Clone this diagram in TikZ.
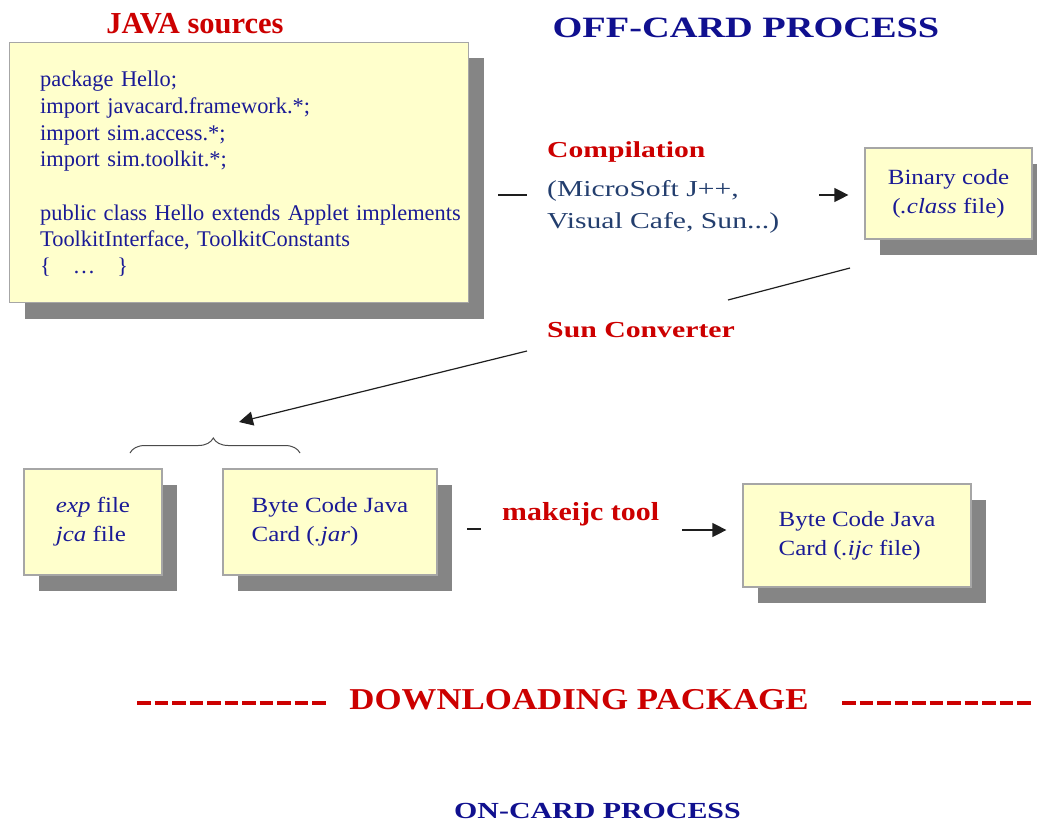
\documentclass[tikz,border=0pt]{standalone}
\usepackage{fontspec}
\setmainfont{Liberation Serif}
\newfontfamily\sfam[FakeStretch=1.15]{Liberation Serif}
\newfontfamily\hfam[FakeStretch=1.3]{Liberation Serif}
\usetikzlibrary{arrows.meta,shadows,decorations.pathreplacing}
\definecolor{boxyellow}{HTML}{FFFFCC}
\definecolor{boxedge}{HTML}{A6A6A6}
\definecolor{shadowgray}{HTML}{858585}
\definecolor{navytext}{HTML}{1A1A96}
\definecolor{redlabel}{HTML}{CC0000}
\definecolor{slatetext}{HTML}{233E6E}
\definecolor{headblue}{HTML}{10108F}
\definecolor{lineblack}{HTML}{1E1E1E}
\begin{document}
\begin{tikzpicture}[x=1pt,y=-1pt,
  card/.style={draw=boxedge, line width=1.2pt, fill=boxyellow, inner sep=0pt, text=navytext,
    drop shadow={shadow xshift=15pt, shadow yshift=-16pt, fill=shadowgray, opacity=1}},
  smalltxt/.style={font=\sfam\fontsize{21.7}{29}\selectfont},
  redlab/.style={text=redlabel, inner sep=0pt},
  conn/.style={draw=lineblack, line width=1.2pt},
  arr/.style={conn, -{Triangle[length=14pt,width=14pt]}},
  dashrule/.style={draw=redlabel, line width=4.5pt, dash pattern=on 13.5pt off 4pt},
  bracestyle/.style={draw=lineblack!80, line width=1pt,
    decorate, decoration={brace, amplitude=15pt, aspect=0.49}}
]
\path[use as bounding box] (0,0) rectangle (1037,825);

% boxes
\node[card, minimum width=459pt, minimum height=260pt, anchor=north west,
  drop shadow={shadow xshift=15pt, shadow yshift=-15pt, fill=shadowgray, opacity=1}] (javabox) at (9,42) {};
\node[anchor=north west, inner sep=0pt, text=navytext, text width=430pt, align=left,
  font=\fontsize{22.4}{26.7}\selectfont] (javacode) at (40,71) {package Hello;\\
import javacard.framework.*;\\
import sim.access.*;\\
import sim.toolkit.*;\\[26.7pt]
public class Hello extends Applet implements\\
ToolkitInterface, ToolkitConstants\\
\{\hspace{22pt}…\hspace{22pt}\}};

\node[card, smalltxt, minimum width=167pt, minimum height=91pt, align=center] (binbox) at (948.5,193.5)
  {Binary code\\ (\textit{.class} file)};
\node[card, smalltxt, minimum width=138pt, minimum height=106pt, align=left] (expbox) at (93,522)
  {\textit{exp} file\\ \textit{jca} file};
\node[card, smalltxt, minimum width=214pt, minimum height=106pt, align=left] (jarbox) at (330,522)
  {Byte Code Java\\ Card (\textit{.jar})};
\node[card, smalltxt, minimum width=228pt, minimum height=103pt, align=left] (ijcbox) at (857,535.5)
  {Byte Code Java\\ Card (\textit{.ijc} file)};

% labels
\node[redlab, anchor=base, font=\bfseries\fontsize{30.5}{32}\selectfont] (javalbl) at (195,33) {JAVA sources};
\node[anchor=base, inner sep=0pt, text=headblue, font=\hfam\bfseries\fontsize{29.5}{32}\selectfont] (offcard) at (746,37) {OFF-CARD PROCESS};
\node[redlab, anchor=base west, font=\hfam\bfseries\fontsize{22.8}{28}\selectfont] (complbl) at (547,157) {Compilation};
\node[anchor=base west, inner sep=0pt, text=slatetext, font=\hfam\fontsize{22.8}{28}\selectfont] (compsubA) at (547,196) {(MicroSoft J++,};
\node[anchor=base west, inner sep=0pt, text=slatetext, font=\hfam\fontsize{22.8}{28}\selectfont] (compsubB) at (547,228) {Visual Cafe, Sun...)};
\node[redlab, anchor=base west, font=\hfam\bfseries\fontsize{22.9}{28}\selectfont] (sunlbl) at (547,337) {Sun Converter};
\node[redlab, anchor=base west, font=\sfam\bfseries\fontsize{26}{30}\selectfont] (mklbl) at (502,520) {makeijc tool};
\node[redlab, anchor=base, font=\sfam\bfseries\fontsize{30.3}{34}\selectfont] (dllbl) at (579,709) {DOWNLOADING PACKAGE};
\node[anchor=base, inner sep=0pt, text=headblue, font=\hfam\bfseries\fontsize{23}{28}\selectfont] (oncard) at (597.5,818) {ON-CARD PROCESS};

% connector coordinates
\coordinate (compA) at (498,195);
\coordinate (compB) at (527,195);
\coordinate (compC) at (819,195);
\coordinate (sunA) at (850,268);
\coordinate (sunB) at (728,300);
\coordinate (sunC) at (527,351);
\coordinate (sunD) at (239,422);
\coordinate (brL) at (130,453);
\coordinate (brR) at (300,453);
\coordinate (mkA) at (467,529);
\coordinate (mkB) at (481,529);
\coordinate (mkC) at (682,530);
\coordinate (dlA) at (137,703);
\coordinate (dlB) at (325.5,703);
\coordinate (drA) at (842,703);
\coordinate (drB) at (1030.5,703);

\draw[conn] (compA) -- (compB);
\draw[arr, shorten >=16pt] (compC) -- (compC -| binbox.west);
\draw[conn] (sunA) -- (sunB);
\draw[arr] (sunC) -- (sunD);
\draw[bracestyle] (brL) -- (brR);
\draw[conn] (mkA) -- (mkB);
\draw[arr, shorten >=16pt] (mkC) -- (mkC -| ijcbox.west);
\draw[dashrule] (dlA) -- (dlB);
\draw[dashrule] (drA) -- (drB);
\end{tikzpicture}
\end{document}
